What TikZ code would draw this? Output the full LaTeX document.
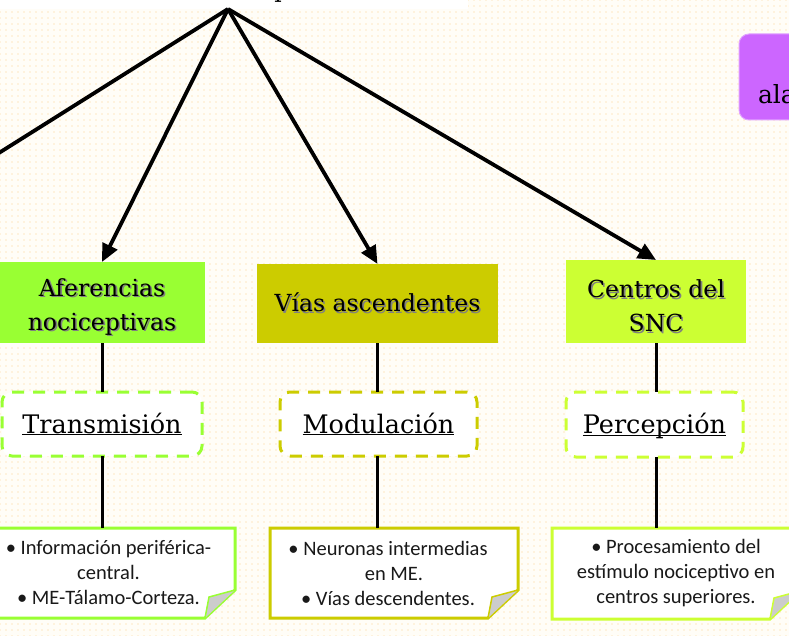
\documentclass[tikz,border=0pt]{standalone}
\usepackage{fontspec}
\setmainfont{DejaVu Serif}
\newfontfamily\notefont{Carlito}
\usetikzlibrary{arrows.meta,patterns.meta,backgrounds}

\definecolor{greenA}{HTML}{99FF33}
\definecolor{oliveA}{HTML}{CCCC00}
\definecolor{limeA}{HTML}{CCFF33}
\definecolor{purpleA}{HTML}{CC66FF}
\definecolor{creamA}{HTML}{FFFDF7}
\definecolor{dotA}{HTML}{FDE8C4}

\newcommand\shadowed[1]{\makebox[0pt][l]{\kern1.6pt\raisebox{-1.6pt}{\textcolor{black!50}{#1}}}#1}
\newcommand\undertext[1]{\underline{\raisebox{0pt}[\height][0pt]{#1}}}
\newcommand\headstrut{\rule{0pt}{28pt}}

\begin{document}
\begin{tikzpicture}[x=1pt, y=-1pt]
        \tikzstyle{every node}=[inner sep=0pt, outer sep=0pt]
        \tikzstyle{head}=[rectangle, align=center, font=\fontsize{23.5}{34}\selectfont]
        \tikzstyle{dashbox}=[rectangle, rounded corners=10pt, dash pattern=on 12pt off 9pt, line width=3pt, fill=white, font=\fontsize{25.5}{30}\selectfont]
        \tikzstyle{note}=[rectangle, align=center, text=black!90, font=\notefont\fontsize{20.5}{25}\selectfont]
        \tikzstyle{arrow}=[line width=3.8pt, -{Triangle[length=18pt,width=16pt]}]
        \tikzstyle{link}=[line width=3pt]
        \useasboundingbox (0,0) rectangle (789,636);
        % top node, only its lower edge is in view
        \node [fill=white, minimum width=480pt, minimum height=40pt] (root) at (228,-11) {};
        \node [anchor=base, font=\fontsize{23.5}{28}\selectfont] (rootp) at (282,-2) {p};
        \coordinate (offleft) at (-60,190);
        % side node on the right
        \node [rectangle, rounded corners=10pt, fill=purpleA, draw=purpleA!60, line width=1pt, minimum width=122pt, minimum height=86pt] (side) at (800,77) {};
        \node [anchor=base west, font=\fontsize{25}{28}\selectfont] (sidetext) at (758,104) {ala};
        % headings
        \node [head, fill=greenA, minimum width=206pt, minimum height=81pt] (aferencias) at (102,302.5) {\headstrut\shadowed{Aferencias}\\\shadowed{nociceptivas}};
        \node [head, fill=oliveA, minimum width=241pt, minimum height=79pt] (vias) at (377.5,303.5) {\shadowed{Vías ascendentes}};
        \node [head, fill=limeA, minimum width=180pt, minimum height=83pt] (centros) at (656,301.5) {\headstrut\shadowed{Centros del}\\\shadowed{SNC}};
        % dashed boxes
        \node [dashbox, draw=greenA, minimum width=200pt, minimum height=64pt] (transmision) at (102,424) {\undertext{Transmisión}};
        \node [dashbox, draw=oliveA, minimum width=197pt, minimum height=64pt] (modulacion) at (378.5,424) {\undertext{Modulación}};
        \node [dashbox, draw=limeA, minimum width=177pt, minimum height=65pt] (percepcion) at (654.5,424.5) {\undertext{Percepción}};
        % notes
        \node [note, minimum width=253pt, minimum height=90pt] (notaf) at (108.5,573) {• Información periférica-\\central.\\• ME-Tálamo-Corteza.};
        \node [note, minimum width=248pt, minimum height=90pt] (notvi) at (394,573) {• Neuronas intermedias\hspace*{12pt}\\en ME.\hspace*{12pt}\\• Vías descendentes.\hspace*{12pt}};
        \node [note, minimum width=248pt, minimum height=91pt] (notce) at (676,573.5) {• Procesamiento del\\estímulo nociceptivo en\\centros superiores.};
        \begin{scope}[on background layer]
            \fill [creamA] (0,0) rectangle (789,636);
            \fill [pattern={Dots[distance=6pt, radius=0.8pt]}, pattern color=dotA] (0,0) rectangle (789,636);
            \foreach \n/\c in {notaf/greenA, notvi/oliveA, notce/limeA} {
                \draw [line width=3pt, draw=\c, fill=white] (\n.north west) -- (\n.north east) -- ([yshift=28pt]\n.south east) -- ([xshift=-30pt]\n.south east) -- (\n.south west) -- cycle;
                \filldraw [line width=1.5pt, draw=\c, fill=gray!40] ([yshift=28pt]\n.south east) -- ([xshift=-26pt, yshift=21pt]\n.south east) -- ([xshift=-30pt]\n.south east);
            }
        \end{scope}
        % connectors
        \draw [arrow] (root.south) -- (offleft);
        \draw [arrow] (root.south) -- (aferencias.north);
        \draw [arrow] (root.south) -- (vias.north);
        \draw [arrow] (root.south) -- (centros.north);
        \draw [link] (aferencias.south) -- (aferencias.south |- transmision.north);
        \draw [link] (vias.south) -- (vias.south |- modulacion.north);
        \draw [link] (centros.south) -- (centros.south |- percepcion.north);
        \draw [link] (transmision.south) -- (transmision.south |- notaf.north);
        \draw [link] (vias.south |- modulacion.south) -- (vias.south |- notvi.north);
        \draw [link] (centros.south |- percepcion.south) -- (centros.south |- notce.north);
    \end{tikzpicture}
\end{document}
